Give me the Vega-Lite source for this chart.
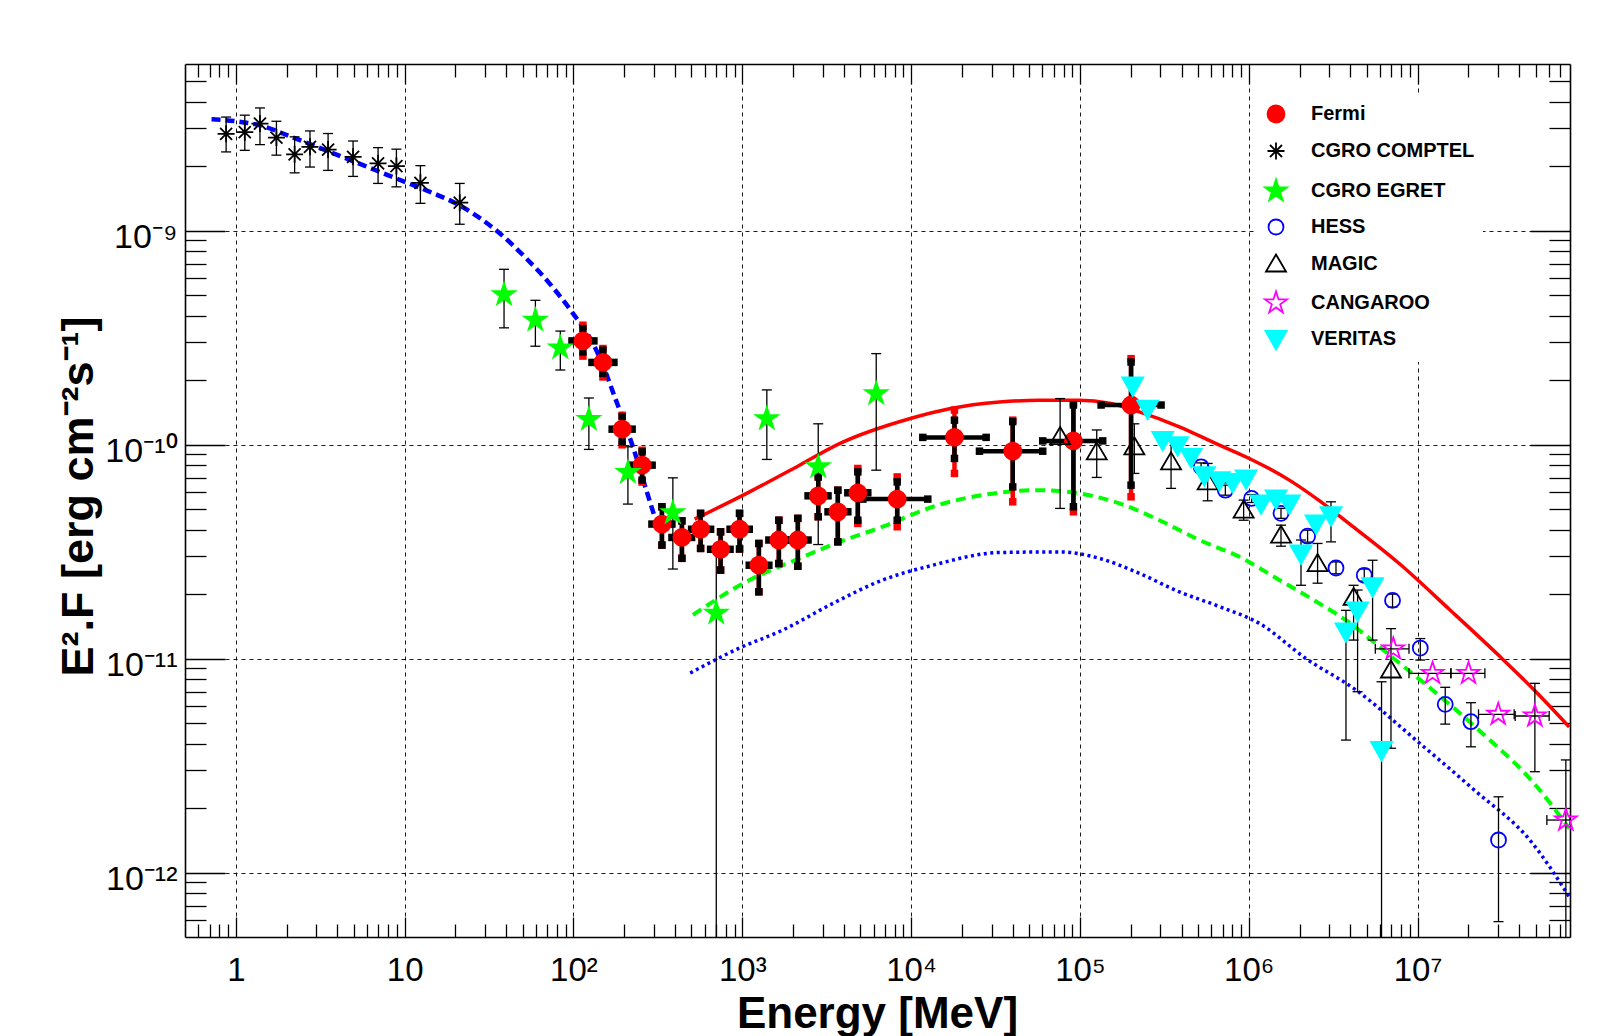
{
"$schema":"https://vega.github.io/schema/vega-lite/v6.json",
"width":1385,"height":873,
"autosize":{"type":"none"},
"padding":{"left":185,"top":64,"right":51,"bottom":99},
"background":"white",
"config":{"view":{"stroke":null},"font":"Liberation Sans"},
"datasets":{
"curves":[
{"c":"syn","E":0.718,"F":3.31e-9},{"c":"syn","E":1.01,"F":3.24e-9},{"c":"syn","E":1.387,"F":3.10e-9},{"c":"syn","E":2.184,"F":2.72e-9},{"c":"syn","E":3.6,"F":2.33e-9},{"c":"syn","E":5.67,"F":2.02e-9},{"c":"syn","E":8.94,"F":1.75e-9},{"c":"syn","E":13.46,"F":1.54e-9},{"c":"syn","E":21.2,"F":1.31e-9},{"c":"syn","E":34.96,"F":1.0e-9},{"c":"syn","E":52.6,"F":7.4e-10},{"c":"syn","E":72.3,"F":5.65e-10},{"c":"syn","E":99.3,"F":4.1e-10},{"c":"syn","E":130.4,"F":2.97e-10},{"c":"syn","E":149.5,"F":2.35e-10},{"c":"syn","E":171.3,"F":1.76e-10},{"c":"syn","E":187.7,"F":1.45e-10},{"c":"syn","E":225,"F":9.76e-11},{"c":"syn","E":270.2,"F":6.12e-11},{"c":"syn","E":302.6,"F":4.6e-11},
{"c":"ic","E":522,"F":4.48e-11},{"c":"ic","E":1105,"F":6.01e-11},{"c":"ic","E":2184,"F":8.01e-11},{"c":"ic","E":3768,"F":1.01e-10},{"c":"ic","E":9784,"F":1.32e-10},{"c":"ic","E":16880,"F":1.47e-10},{"c":"ic","E":33380,"F":1.58e-10},{"c":"ic","E":57580,"F":1.61e-10},{"c":"ic","E":99310,"F":1.61e-10},{"c":"ic","E":149500,"F":1.56e-10},{"c":"ic","E":225000,"F":1.42e-10},{"c":"ic","E":388200,"F":1.21e-10},{"c":"ic","E":640300,"F":1.01e-10},{"c":"ic","E":1008000,"F":8.61e-11},{"c":"ic","E":1740000,"F":6.82e-11},{"c":"ic","E":2618000,"F":5.47e-11},{"c":"ic","E":4107000,"F":4.16e-11},{"c":"ic","E":7790000,"F":2.78e-11},{"c":"ic","E":15410000,"F":1.7e-11},{"c":"ic","E":30450000,"F":1.03e-11},{"c":"ic","E":49090000,"F":7.13e-12},{"c":"ic","E":79100000,"F":4.79e-12},
{"c":"ic2","E":510,"F":1.6e-11},{"c":"ic2","E":1105,"F":2.33e-11},{"c":"ic2","E":2184,"F":2.94e-11},{"c":"ic2","E":3768,"F":3.51e-11},{"c":"ic2","E":6800,"F":4.13e-11},{"c":"ic2","E":13450,"F":5.12e-11},{"c":"ic2","E":33380,"F":5.96e-11},{"c":"ic2","E":57580,"F":6.12e-11},{"c":"ic2","E":99310,"F":5.91e-11},{"c":"ic2","E":171400,"F":5.31e-11},{"c":"ic2","E":295700,"F":4.43e-11},{"c":"ic2","E":510000,"F":3.58e-11},{"c":"ic2","E":879700,"F":2.99e-11},{"c":"ic2","E":1518000,"F":2.33e-11},{"c":"ic2","E":2618000,"F":1.81e-11},{"c":"ic2","E":3768000,"F":1.51e-11},{"c":"ic2","E":6800000,"F":1.04e-11},{"c":"ic2","E":12270000,"F":7.13e-12},{"c":"ic2","E":24260000,"F":4.47e-12},{"c":"ic2","E":47970000,"F":2.66e-12},{"c":"ic2","E":79100000,"F":1.61e-12},
{"c":"ic3","E":491.4,"F":8.56e-12},{"c":"ic3","E":963.8,"F":1.12e-11},{"c":"ic3","E":1740,"F":1.36e-11},{"c":"ic3","E":3440,"F":1.81e-11},{"c":"ic3","E":6800,"F":2.33e-11},{"c":"ic3","E":13450,"F":2.73e-11},{"c":"ic3","E":33380,"F":3.13e-11},{"c":"ic3","E":75600,"F":3.15e-11},{"c":"ic3","E":130500,"F":2.94e-11},{"c":"ic3","E":225000,"F":2.5e-11},{"c":"ic3","E":388200,"F":2.05e-11},{"c":"ic3","E":669900,"F":1.75e-11},{"c":"ic3","E":1156000,"F":1.46e-11},{"c":"ic3","E":2184000,"F":1.0e-11},{"c":"ic3","E":4318000,"F":7.13e-12},{"c":"ic3","E":9780000,"F":4.16e-12},{"c":"ic3","E":21170000,"F":2.47e-12},{"c":"ic3","E":47970000,"F":1.37e-12},{"c":"ic3","E":79100000,"F":7.72e-13}
],
"pts":[
{"inst":"Fermi","E":113.8,"Elo":98.0,"Ehi":132.2,"F":3.05e-10,"Flo":2.71e-10,"Fhi":3.48e-10,"Fslo":2.59e-10,"Fshi":3.61e-10},
{"inst":"Fermi","E":149.5,"Elo":128.7,"Ehi":173.7,"F":2.42e-10,"Flo":2.15e-10,"Fhi":2.76e-10,"Fslo":2.07e-10,"Fshi":2.81e-10},
{"inst":"Fermi","E":194.2,"Elo":169.5,"Ehi":222.6,"F":1.18e-10,"Flo":1.03e-10,"Fhi":1.35e-10,"Fslo":9.97e-11,"Fshi":1.37e-10},
{"inst":"Fermi","E":255.1,"Elo":222.6,"Ehi":292.4,"F":8.01e-11,"Flo":6.82e-11,"Fhi":9.24e-11,"Fslo":6.68e-11,"Fshi":9.41e-11},
{"inst":"Fermi","E":334.2,"Elo":291.6,"Ehi":383.1,"F":4.25e-11,"Flo":3.39e-11,"Fhi":5.12e-11,"Fslo":3.39e-11,"Fshi":5.12e-11},
{"inst":"Fermi","E":439,"Elo":383.1,"Ehi":501,"F":3.68e-11,"Flo":2.94e-11,"Fhi":4.4e-11,"Fslo":2.94e-11,"Fshi":4.4e-11},
{"inst":"Fermi","E":566.4,"Elo":501,"Ehi":649.2,"F":4.02e-11,"Flo":3.27e-11,"Fhi":4.77e-11,"Fslo":3.27e-11,"Fshi":4.77e-11},
{"inst":"Fermi","E":743.9,"Elo":649.2,"Ehi":846.8,"F":3.24e-11,"Flo":2.59e-11,"Fhi":3.91e-11,"Fslo":2.59e-11,"Fshi":3.91e-11},
{"inst":"Fermi","E":963.8,"Elo":846.8,"Ehi":1100,"F":4.02e-11,"Flo":3.25e-11,"Fhi":4.77e-11,"Fslo":3.25e-11,"Fshi":4.77e-11},
{"inst":"Fermi","E":1254,"Elo":1100,"Ehi":1437,"F":2.73e-11,"Flo":2.05e-11,"Fhi":3.45e-11,"Fslo":2.05e-11,"Fshi":3.45e-11},
{"inst":"Fermi","E":1647,"Elo":1437,"Ehi":1875,"F":3.58e-11,"Flo":2.78e-11,"Fhi":4.43e-11,"Fslo":2.78e-11,"Fshi":4.43e-11},
{"inst":"Fermi","E":2134,"Elo":1875,"Ehi":2453,"F":3.58e-11,"Flo":2.7e-11,"Fhi":4.52e-11,"Fslo":2.7e-11,"Fshi":4.52e-11},
{"inst":"Fermi","E":2818,"Elo":2453,"Ehi":3221,"F":5.76e-11,"Flo":4.6e-11,"Fhi":7.06e-11,"Fslo":4.6e-11,"Fshi":7.06e-11},
{"inst":"Fermi","E":3681,"Elo":3221,"Ehi":4220,"F":4.85e-11,"Flo":3.51e-11,"Fhi":6.12e-11,"Fslo":3.51e-11,"Fshi":6.12e-11},
{"inst":"Fermi","E":4836,"Elo":4220,"Ehi":5541,"F":5.95e-11,"Flo":4.43e-11,"Fhi":7.45e-11,"Fslo":4.28e-11,"Fshi":7.73e-11},
{"inst":"Fermi","E":8274,"Elo":5176,"Ehi":12560,"F":5.56e-11,"Flo":4.43e-11,"Fhi":6.69e-11,"Fslo":4.13e-11,"Fshi":7.06e-11},
{"inst":"Fermi","E":18070,"Elo":11730,"Ehi":27840,"F":1.08e-10,"Flo":8.61e-11,"Fhi":1.3e-10,"Fslo":7.33e-11,"Fshi":1.45e-10},
{"inst":"Fermi","E":40000,"Elo":25410,"Ehi":60220,"F":9.31e-11,"Flo":6.34e-11,"Fhi":1.28e-10,"Fslo":5.4e-11,"Fshi":1.3e-10},
{"inst":"Fermi","E":91530,"Elo":60220,"Ehi":136500,"F":1.04e-10,"Flo":5.12e-11,"Fhi":1.53e-10,"Fslo":4.85e-11,"Fshi":1.56e-10},
{"inst":"Fermi","E":200900,"Elo":133500,"Ehi":302600,"F":1.53e-10,"Flo":6.46e-11,"Fhi":2.43e-10,"Fslo":5.7e-11,"Fshi":2.52e-10},
{"inst":"CGRO COMPTEL","E":0.876,"F":2.83e-9,"Flo":2.33e-9,"Fhi":3.39e-9},
{"inst":"CGRO COMPTEL","E":1.13,"F":2.88e-9,"Flo":2.37e-9,"Fhi":3.46e-9},
{"inst":"CGRO COMPTEL","E":1.39,"F":3.16e-9,"Flo":2.52e-9,"Fhi":3.74e-9},
{"inst":"CGRO COMPTEL","E":1.74,"F":2.72e-9,"Flo":2.25e-9,"Fhi":3.24e-9},
{"inst":"CGRO COMPTEL","E":2.23,"F":2.27e-9,"Flo":1.86e-9,"Fhi":2.74e-9},
{"inst":"CGRO COMPTEL","E":2.75,"F":2.46e-9,"Flo":1.98e-9,"Fhi":2.92e-9},
{"inst":"CGRO COMPTEL","E":3.52,"F":2.39e-9,"Flo":1.91e-9,"Fhi":2.84e-9},
{"inst":"CGRO COMPTEL","E":4.95,"F":2.21e-9,"Flo":1.79e-9,"Fhi":2.62e-9},
{"inst":"CGRO COMPTEL","E":6.96,"F":2.06e-9,"Flo":1.66e-9,"Fhi":2.44e-9},
{"inst":"CGRO COMPTEL","E":8.94,"F":2.0e-9,"Flo":1.6e-9,"Fhi":2.4e-9},
{"inst":"CGRO COMPTEL","E":12.4,"F":1.67e-9,"Flo":1.34e-9,"Fhi":2.01e-9},
{"inst":"CGRO COMPTEL","E":21.2,"F":1.35e-9,"Flo":1.07e-9,"Fhi":1.66e-9},
{"inst":"CGRO EGRET","E":38.8,"F":5.02e-10,"Flo":3.51e-10,"Fhi":6.59e-10},
{"inst":"CGRO EGRET","E":59.5,"F":3.81e-10,"Flo":2.88e-10,"Fhi":4.72e-10},
{"inst":"CGRO EGRET","E":83.6,"F":2.83e-10,"Flo":2.23e-10,"Fhi":3.39e-10},
{"inst":"CGRO EGRET","E":123.4,"F":1.31e-10,"Flo":9.49e-11,"Fhi":1.65e-10},
{"inst":"CGRO EGRET","E":210.2,"F":7.41e-11,"Flo":5.27e-11,"Fhi":9.76e-11},
{"inst":"CGRO EGRET","E":388,"F":4.8e-11,"Flo":2.62e-11,"Fhi":6.99e-11},
{"inst":"CGRO EGRET","E":701.5,"F":1.63e-11,"Flo":1e-13,"Fhi":3.3e-11},
{"inst":"CGRO EGRET","E":1398,"F":1.32e-10,"Flo":8.52e-11,"Fhi":1.8e-10},
{"inst":"CGRO EGRET","E":2818,"F":7.87e-11,"Flo":3.41e-11,"Fhi":1.25e-10},
{"inst":"CGRO EGRET","E":6216,"F":1.73e-10,"Flo":7.59e-11,"Fhi":2.66e-10},
{"inst":"HESS","E":522100,"F":7.87e-11,"Flo":7.54e-11,"Fhi":8.21e-11},
{"inst":"HESS","E":727000,"F":6.12e-11,"Flo":5.8e-11,"Fhi":6.46e-11},
{"inst":"HESS","E":1040000,"F":5.6e-11,"Flo":5.36e-11,"Fhi":5.84e-11},
{"inst":"HESS","E":1553000,"F":4.77e-11,"Flo":4.52e-11,"Fhi":5.03e-11},
{"inst":"HESS","E":2232000,"F":3.73e-11,"Flo":3.5e-11,"Fhi":3.98e-11},
{"inst":"HESS","E":3288000,"F":2.65e-11,"Flo":2.49e-11,"Fhi":2.83e-11},
{"inst":"HESS","E":4835000,"F":2.45e-11,"Flo":2.3e-11,"Fhi":2.62e-11},
{"inst":"HESS","E":7110000,"F":1.87e-11,"Flo":1.74e-11,"Fhi":2.0e-11},
{"inst":"HESS","E":10380000,"F":1.12e-11,"Flo":9.84e-12,"Fhi":1.24e-11},
{"inst":"HESS","E":14590000,"F":6.11e-12,"Flo":4.94e-12,"Fhi":7.34e-12},
{"inst":"HESS","E":20710000,"F":5.07e-12,"Flo":3.87e-12,"Fhi":6.22e-12},
{"inst":"HESS","E":30170000,"F":1.42e-12,"Flo":5.9e-13,"Fhi":2.26e-12},
{"inst":"MAGIC","E":76340,"F":1.09e-10,"Flo":5.03e-11,"Fhi":1.64e-10},
{"inst":"MAGIC","E":125800,"F":9.24e-11,"Flo":7.02e-11,"Fhi":1.17e-10},
{"inst":"MAGIC","E":210200,"F":9.76e-11,"Flo":7.33e-11,"Fhi":1.25e-10},
{"inst":"MAGIC","E":346700,"F":8.3e-11,"Flo":6.24e-11,"Fhi":1.05e-10},
{"inst":"MAGIC","E":571100,"F":6.69e-11,"Flo":5.46e-11,"Fhi":8.16e-11},
{"inst":"MAGIC","E":932800,"F":4.94e-11,"Flo":4.43e-11,"Fhi":5.5e-11},
{"inst":"MAGIC","E":1553000,"F":3.77e-11,"Flo":3.35e-11,"Fhi":4.2e-11},
{"inst":"MAGIC","E":2558000,"F":2.78e-11,"Flo":2.25e-11,"Fhi":3.45e-11},
{"inst":"MAGIC","E":4180000,"F":1.93e-11,"Flo":1.22e-11,"Fhi":2.2e-11},
{"inst":"MAGIC","E":6960000,"F":8.84e-12,"Flo":3.81e-12,"Fhi":1.38e-11},
{"inst":"CANGAROO","E":7180000,"Elo":5620000,"Ehi":8900000,"F":1.11e-11},
{"inst":"CANGAROO","E":12270000,"Elo":8900000,"Ehi":15760000,"F":8.53e-12},
{"inst":"CANGAROO","E":20040000,"Elo":15760000,"Ehi":25060000,"F":8.53e-12},
{"inst":"CANGAROO","E":30050000,"Elo":22970000,"Ehi":37370000,"F":5.49e-12},
{"inst":"CANGAROO","E":49550000,"Elo":37880000,"Ehi":60200000,"F":5.39e-12,"Flo":2.96e-12,"Fhi":7.66e-12},
{"inst":"CANGAROO","E":75600000,"Elo":58350000,"Ehi":80000000,"F":1.76e-12,"Flo":1e-13,"Fhi":3.36e-12},
{"inst":"VERITAS","E":205500,"F":1.89e-10},
{"inst":"VERITAS","E":252000,"F":1.47e-10},
{"inst":"VERITAS","E":309200,"F":1.05e-10},
{"inst":"VERITAS","E":379300,"F":9.94e-11},
{"inst":"VERITAS","E":455300,"F":8.76e-11},
{"inst":"VERITAS","E":546000,"F":7.2e-11},
{"inst":"VERITAS","E":669900,"F":6.82e-11},
{"inst":"VERITAS","E":803000,"F":6.69e-11},
{"inst":"VERITAS","E":963900,"F":6.94e-11},
{"inst":"VERITAS","E":1183000,"F":5.31e-11},
{"inst":"VERITAS","E":1451000,"F":5.6e-11},
{"inst":"VERITAS","E":1740000,"F":5.31e-11},
{"inst":"VERITAS","E":2040000,"F":3.1e-11,"Flo":2.2e-11,"Fhi":3.58e-11},
{"inst":"VERITAS","E":2503000,"F":4.28e-11},
{"inst":"VERITAS","E":3071000,"F":4.68e-11,"Flo":3.51e-11,"Fhi":5.4e-11},
{"inst":"VERITAS","E":3768000,"F":1.34e-11,"Flo":4.16e-12,"Fhi":1.68e-11},
{"inst":"VERITAS","E":4414000,"F":1.68e-11,"Flo":7.0e-12,"Fhi":2.09e-11},
{"inst":"VERITAS","E":5416000,"F":2.18e-11,"Flo":1.22e-11,"Fhi":2.88e-11},
{"inst":"VERITAS","E":6120000,"F":3.74e-12,"Flo":1e-13,"Fhi":7.79e-12}
]
},
"layer":[
{"data":{"name":"curves"},"transform":[{"filter":"datum.c == 'ic'"}],
 "mark":{"type":"line","color":"#ff0000","strokeWidth":3.5,"interpolate":"monotone","clip":true},
 "encoding":{
  "x":{"field":"E","type":"quantitative","scale":{"type":"log","domain":[0.5,8e7],"nice":false},
   "axis":{"orient":"bottom","values":[1,10,100,1000,10000,100000,1000000,10000000],"labelExpr":"['1','10','10²','10³','10⁴','10⁵','10⁶','10⁷'][round(log(datum.value)/LN10)]","labelFont":"Liberation Sans","labelFontSize":33,"labelColor":"black","labelPadding":37,"labelFlush":false,"labelOverlap":false,"tickSize":-20,"tickColor":"black","tickWidth":1.3,"domainColor":"black","domainWidth":1.6,"grid":true,"gridColor":"black","gridDash":[4,4],"gridWidth":1,"gridOpacity":0.9,"title":"Energy [MeV]","titleFont":"Liberation Sans","titleFontSize":44,"titleFontWeight":"bold","titleColor":"black","titleBaseline":"alphabetic","titleAlign":"center","titleX":692,"titleY":90}},
  "y":{"field":"F","type":"quantitative","scale":{"type":"log","domain":[5e-13,6e-9],"nice":false},
   "axis":{"orient":"left","values":[1e-12,1e-11,1e-10,1e-9],"labelExpr":"['','','','','','','','','','10⁻⁹','10⁻¹⁰','10⁻¹¹','10⁻¹²'][round(-log(datum.value)/LN10)]","labelFont":"Liberation Sans","labelFontSize":34,"labelColor":"black","labelPadding":48,"labelOffset":7,"labelBaseline":"middle","labelAlign":"right","labelFlush":false,"labelOverlap":false,"tickSize":-40,"tickColor":"black","tickWidth":1.3,"domainColor":"black","domainWidth":1.6,"grid":true,"gridColor":"black","gridDash":[4,4],"gridWidth":1,"gridOpacity":0.9,"title":"E².F [erg cm⁻²s⁻¹]","titleFont":"Liberation Sans","titleFontSize":45,"titleFontWeight":"bold","titleColor":"black","titleAngle":-90,"titleAlign":"center","titleBaseline":"alphabetic","titleX":-93,"titleY":432}}
 }},
{"data":{"name":"curves"},"transform":[{"filter":"datum.c == 'ic2'"}],
 "mark":{"type":"line","color":"#00ff00","strokeWidth":4,"strokeDash":[10,6],"interpolate":"monotone","clip":true},
 "encoding":{
  "x":{"field":"E","type":"quantitative","scale":{"type":"log","domain":[0.5,8e7],"nice":false},
   "axis":{"orient":"bottom","values":[0.6,0.7,0.8,0.9,2,3,4,5,6,7,8,9,20,30,40,50,60,70,80,90,200,300,400,500,600,700,800,900,2000,3000,4000,5000,6000,7000,8000,9000,20000,30000,40000,50000,60000,70000,80000,90000,200000,300000,400000,500000,600000,700000,800000,900000,2000000,3000000,4000000,5000000,6000000,7000000,8000000,9000000,20000000,30000000,40000000,50000000,60000000,70000000],"labels":false,"domain":false,"grid":false,"tickSize":-13,"tickColor":"black","tickWidth":1.3,"title":null}},
  "y":{"field":"F","type":"quantitative","scale":{"type":"log","domain":[5e-13,6e-9],"nice":false},
   "axis":{"orient":"left","values":[6e-13,7e-13,8e-13,9e-13,2e-12,3e-12,4e-12,5e-12,6e-12,7e-12,8e-12,9e-12,2e-11,3e-11,4e-11,5e-11,6e-11,7e-11,8e-11,9e-11,2e-10,3e-10,4e-10,5e-10,6e-10,7e-10,8e-10,9e-10,2e-9,3e-9,4e-9,5e-9],"labels":false,"domain":false,"grid":false,"tickSize":-21,"tickColor":"black","tickWidth":1.3,"title":null}}
 }},
{"data":{"name":"curves"},"transform":[{"filter":"datum.c == 'ic3'"}],
 "mark":{"type":"line","color":"#0000ff","strokeWidth":3.5,"strokeDash":[3,3.5],"interpolate":"monotone","clip":true},
 "encoding":{
  "x":{"field":"E","type":"quantitative","scale":{"type":"log","domain":[0.5,8e7],"nice":false},
   "axis":{"orient":"top","values":[1,10,100,1000,10000,100000,1000000,10000000],"labels":false,"grid":false,"tickSize":-20,"tickColor":"black","tickWidth":1.3,"domainColor":"black","domainWidth":1.6,"title":null}},
  "y":{"field":"F","type":"quantitative","scale":{"type":"log","domain":[5e-13,6e-9],"nice":false},
   "axis":{"orient":"right","values":[1e-12,1e-11,1e-10,1e-9],"labels":false,"grid":false,"tickSize":-40,"tickColor":"black","tickWidth":1.3,"domainColor":"black","domainWidth":1.6,"title":null}}
 }},
{"data":{"name":"curves"},"transform":[{"filter":"datum.c == 'syn'"}],
 "mark":{"type":"line","color":"#0000ff","strokeWidth":4.5,"strokeDash":[9,5],"interpolate":"monotone","clip":true},
 "encoding":{
  "x":{"field":"E","type":"quantitative","scale":{"type":"log","domain":[0.5,8e7],"nice":false},
   "axis":{"orient":"top","values":[0.6,0.7,0.8,0.9,2,3,4,5,6,7,8,9,20,30,40,50,60,70,80,90,200,300,400,500,600,700,800,900,2000,3000,4000,5000,6000,7000,8000,9000,20000,30000,40000,50000,60000,70000,80000,90000,200000,300000,400000,500000,600000,700000,800000,900000,2000000,3000000,4000000,5000000,6000000,7000000,8000000,9000000,20000000,30000000,40000000,50000000,60000000,70000000],"labels":false,"domain":false,"grid":false,"tickSize":-13,"tickColor":"black","tickWidth":1.3,"title":null}},
  "y":{"field":"F","type":"quantitative","scale":{"type":"log","domain":[5e-13,6e-9],"nice":false},
   "axis":{"orient":"right","values":[6e-13,7e-13,8e-13,9e-13,2e-12,3e-12,4e-12,5e-12,6e-12,7e-12,8e-12,9e-12,2e-11,3e-11,4e-11,5e-11,6e-11,7e-11,8e-11,9e-11,2e-10,3e-10,4e-10,5e-10,6e-10,7e-10,8e-10,9e-10,2e-9,3e-9,4e-9,5e-9],"labels":false,"domain":false,"grid":false,"tickSize":-21,"tickColor":"black","tickWidth":1.3,"title":null}}
 }},
{"data":{"name":"pts"},"transform":[{"filter":"datum.inst != 'Fermi' && isValid(datum.Flo)"}],
 "mark":{"type":"rule","color":"black","strokeWidth":1.3,"clip":true},
 "encoding":{"x":{"field":"E","type":"quantitative","scale":{"type":"log","domain":[0.5,8e7],"nice":false},"axis":null},"y":{"field":"Flo","type":"quantitative","scale":{"type":"log","domain":[5e-13,6e-9],"nice":false},"axis":null},"y2":{"field":"Fhi"}}},
{"data":{"name":"pts"},"transform":[{"filter":"datum.inst != 'Fermi' && isValid(datum.Flo)"},{"fold":["Flo","Fhi"],"as":["k","v"]}],
 "mark":{"type":"point","shape":"M-1,0L1,0","size":100,"stroke":"black","strokeWidth":1.3,"fill":"transparent","opacity":1,"clip":true},
 "encoding":{"x":{"field":"E","type":"quantitative","scale":{"type":"log","domain":[0.5,8e7],"nice":false},"axis":null},"y":{"field":"v","type":"quantitative","scale":{"type":"log","domain":[5e-13,6e-9],"nice":false},"axis":null}}},
{"data":{"name":"pts"},"transform":[{"filter":"datum.inst != 'Fermi' && isValid(datum.Elo)"}],
 "mark":{"type":"rule","color":"black","strokeWidth":1.3,"clip":true},
 "encoding":{"x":{"field":"Elo","type":"quantitative","scale":{"type":"log","domain":[0.5,8e7],"nice":false},"axis":null},"x2":{"field":"Ehi"},"y":{"field":"F","type":"quantitative","scale":{"type":"log","domain":[5e-13,6e-9],"nice":false},"axis":null}}},
{"data":{"name":"pts"},"transform":[{"filter":"datum.inst != 'Fermi' && isValid(datum.Elo)"},{"fold":["Elo","Ehi"],"as":["k","v"]}],
 "mark":{"type":"point","shape":"M0,-1L0,1","size":100,"stroke":"black","strokeWidth":1.3,"fill":"transparent","opacity":1,"clip":true},
 "encoding":{"x":{"field":"v","type":"quantitative","scale":{"type":"log","domain":[0.5,8e7],"nice":false},"axis":null},"y":{"field":"F","type":"quantitative","scale":{"type":"log","domain":[5e-13,6e-9],"nice":false},"axis":null}}},
{"data":{"name":"pts"},"transform":[{"filter":"datum.inst == 'Fermi'"},{"fold":["Fslo","Fshi"],"as":["k","v"]}],
 "mark":{"type":"point","shape":"square","size":56,"fill":"#ff0000","stroke":"#ff0000","strokeWidth":0,"filled":true,"opacity":1,"clip":true},
 "encoding":{"x":{"field":"E","type":"quantitative","scale":{"type":"log","domain":[0.5,8e7],"nice":false},"axis":null},"y":{"field":"v","type":"quantitative","scale":{"type":"log","domain":[5e-13,6e-9],"nice":false},"axis":null}}},
{"data":{"name":"pts"},"transform":[{"filter":"datum.inst == 'Fermi'"}],
 "mark":{"type":"rule","color":"#ff0000","strokeWidth":4.5,"clip":true},
 "encoding":{"x":{"field":"E","type":"quantitative","scale":{"type":"log","domain":[0.5,8e7],"nice":false},"axis":null},"y":{"field":"Fslo","type":"quantitative","scale":{"type":"log","domain":[5e-13,6e-9],"nice":false},"axis":null},"y2":{"field":"Fshi"}}},
{"data":{"name":"pts"},"transform":[{"filter":"datum.inst == 'Fermi'"}],
 "mark":{"type":"rule","color":"black","strokeWidth":4.5,"clip":true},
 "encoding":{"x":{"field":"E","type":"quantitative","scale":{"type":"log","domain":[0.5,8e7],"nice":false},"axis":null},"y":{"field":"Flo","type":"quantitative","scale":{"type":"log","domain":[5e-13,6e-9],"nice":false},"axis":null},"y2":{"field":"Fhi"}}},
{"data":{"name":"pts"},"transform":[{"filter":"datum.inst == 'Fermi'"}],
 "mark":{"type":"rule","color":"black","strokeWidth":4.5,"clip":true},
 "encoding":{"x":{"field":"Elo","type":"quantitative","scale":{"type":"log","domain":[0.5,8e7],"nice":false},"axis":null},"x2":{"field":"Ehi"},"y":{"field":"F","type":"quantitative","scale":{"type":"log","domain":[5e-13,6e-9],"nice":false},"axis":null}}},
{"data":{"name":"pts"},"transform":[{"filter":"datum.inst == 'Fermi'"},{"fold":["Flo","Fhi"],"as":["k","v"]}],
 "mark":{"type":"point","shape":"square","size":56,"fill":"black","stroke":"black","strokeWidth":0,"filled":true,"opacity":1,"clip":true},
 "encoding":{"x":{"field":"E","type":"quantitative","scale":{"type":"log","domain":[0.5,8e7],"nice":false},"axis":null},"y":{"field":"v","type":"quantitative","scale":{"type":"log","domain":[5e-13,6e-9],"nice":false},"axis":null}}},
{"data":{"name":"pts"},"transform":[{"filter":"datum.inst == 'Fermi'"},{"fold":["Elo","Ehi"],"as":["k","v"]}],
 "mark":{"type":"point","shape":"square","size":56,"fill":"black","stroke":"black","strokeWidth":0,"filled":true,"opacity":1,"clip":true},
 "encoding":{"x":{"field":"v","type":"quantitative","scale":{"type":"log","domain":[0.5,8e7],"nice":false},"axis":null},"y":{"field":"F","type":"quantitative","scale":{"type":"log","domain":[5e-13,6e-9],"nice":false},"axis":null}}},
{"data":{"name":"pts"},
 "mark":{"type":"point","size":400,"strokeWidth":1.8,"opacity":1},
 "encoding":{
  "x":{"field":"E","type":"quantitative","scale":{"type":"log","domain":[0.5,8e7],"nice":false},"axis":null},
  "y":{"field":"F","type":"quantitative","scale":{"type":"log","domain":[5e-13,6e-9],"nice":false},"axis":null},
  "shape":{"field":"inst","type":"nominal","scale":{"domain":["Fermi","CGRO COMPTEL","CGRO EGRET","HESS","MAGIC","CANGAROO","VERITAS"],"range":["M-0.85,0A0.85,0.85,0,1,0,0.85,0A0.85,0.85,0,1,0,-0.85,0Z","M0,-0.85L0,0.85M-0.85,0L0.85,0M-0.6,-0.6L0.6,0.6M-0.6,0.6L0.6,-0.6","M0,-1.15L0.259,-0.356L1.094,-0.355L0.418,0.136L0.676,0.93L0,0.44L-0.676,0.93L-0.418,0.136L-1.094,-0.355L-0.259,-0.356Z","M-0.75,0A0.75,0.75,0,1,0,0.75,0A0.75,0.75,0,1,0,-0.75,0Z","M0,-0.95L1,0.75L-1,0.75Z","M0,-1.15L0.259,-0.356L1.094,-0.355L0.418,0.136L0.676,0.93L0,0.44L-0.676,0.93L-0.418,0.136L-1.094,-0.355L-0.259,-0.356Z","M-1.05,-0.8L1.05,-0.8L0,1.05Z"]},
   "legend":{"title":null,"orient":"none","legendX":1072,"legendY":31,"fillColor":"white","padding":8,"symbolSize":400,"symbolStrokeWidth":1.8,"symbolOpacity":1,"labelFont":"Liberation Sans","labelFontSize":20,"labelFontWeight":"bold","labelColor":"black","labelOffset":24,"labelLimit":400,"rowPadding":11}},
  "stroke":{"field":"inst","type":"nominal","scale":{"domain":["Fermi","CGRO COMPTEL","CGRO EGRET","HESS","MAGIC","CANGAROO","VERITAS"],"range":["#ff0000","#000000","#00ff00","#0000ff","#000000","#ff00ff","#00ffff"]},
   "legend":{"title":null,"orient":"none","legendX":1072,"legendY":31,"fillColor":"white","padding":8,"symbolSize":400,"symbolStrokeWidth":1.8,"symbolOpacity":1,"labelFont":"Liberation Sans","labelFontSize":20,"labelFontWeight":"bold","labelColor":"black","labelOffset":24,"labelLimit":400,"rowPadding":11}},
  "fill":{"field":"inst","type":"nominal","scale":{"domain":["Fermi","CGRO COMPTEL","CGRO EGRET","HESS","MAGIC","CANGAROO","VERITAS"],"range":["#ff0000","transparent","#00ff00","transparent","transparent","transparent","#00ffff"]},
   "legend":{"title":null,"orient":"none","legendX":1072,"legendY":31,"fillColor":"white","padding":8,"symbolSize":400,"symbolStrokeWidth":1.8,"symbolOpacity":1,"labelFont":"Liberation Sans","labelFontSize":20,"labelFontWeight":"bold","labelColor":"black","labelOffset":24,"labelLimit":400,"rowPadding":11}}
 }}
],
"resolve":{"axis":{"x":"independent","y":"independent"}}
}
